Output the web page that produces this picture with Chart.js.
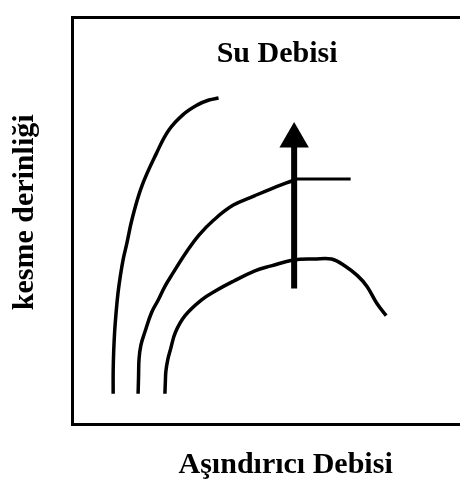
<!DOCTYPE html>
<html lang="tr">
<head>
<meta charset="utf-8">
<title>Su Debisi</title>
<script src="https://cdn.jsdelivr.net/npm/chart.js@4.4.1/dist/chart.umd.min.js"></script>
<style>
  html, body { margin: 0; padding: 0; background: #FFFFFF; overflow: hidden; }
  #grafik { display: block; }
</style>
</head>
<body>
<canvas id="grafik" width="476" height="484"></canvas>
<script>
// Yazilar
const baslik = "Su Debisi";
const eksen_x = "Aşındırıcı Debisi";
const eksen_y = "kesme derinliği";

// Egri 1 (en sol)
const egri1_x = [10.64, 10.64, 10.77, 11.01, 11.39, 11.88, 12.50, 13.24, 14.11, 15.59, 18.07, 21.78, 24.99, 28.71, 32.42, 35.39, 37.87];
const egri1_y = [7.43, 12.95, 17.75, 22.54, 27.34, 32.13, 36.45, 40.53, 44.12, 50.60, 58.51, 66.43, 72.18, 76.02, 78.41, 79.61, 80.09];

// Egri 2 (orta)
const egri2_x = [17.08, 17.20, 17.33, 17.82, 18.81, 20.54, 22.28, 24.01, 25.99, 29.70, 32.92, 36.63, 41.58, 47.27, 51.48, 57.42];
const egri2_y = [7.43, 11.75, 16.07, 19.42, 22.54, 27.34, 30.45, 33.81, 36.93, 42.44, 46.52, 50.12, 53.72, 56.11, 57.79, 59.95];

// Egri 2 sonundaki yatay cizgi
const duz_x = [57.4, 72.0];
const duz_y = [60.2, 60.2];

// Egri 3 (alt)
const egri3_x = [24.01, 24.13, 24.26, 24.75, 25.49, 26.73, 29.21, 33.41, 37.37, 41.58, 47.27, 51.48, 57.17, 62.62, 67.07, 70.54, 73.76, 76.23, 78.71, 81.19];
const egri3_y = [7.43, 10.55, 12.95, 15.83, 18.46, 22.54, 26.62, 30.45, 32.85, 35.01, 37.65, 38.84, 40.28, 40.53, 40.53, 38.84, 36.45, 33.81, 29.74, 26.62];

// Ok (yukari)
const ok_x = [57.4, 57.4];
const ok_y = [33.3, 70.0];

// Yazilarin yerleri (veri birimi)
const baslik_konum = { x: 53.0, y: 89.0 };
const eksen_x_konum = { x: 55.2 };
const eksen_y_konum = { y: 52.0 };

function noktalar(xs, ys) {
  return xs.map((x, i) => ({ x: x, y: ys[i] }));
}

const yazi_font = 'bold 30px "Liberation Serif", "Times New Roman", serif';

const yazilar = {
  id: "yazilar",
  afterDraw(chart) {
    const ctx = chart.ctx;
    const area = chart.chartArea;
    const sx = chart.scales.x;
    const sy = chart.scales.y;
    ctx.save();
    ctx.fillStyle = "#000000";
    ctx.font = yazi_font;
    ctx.textAlign = "center";
    ctx.textBaseline = "alphabetic";

    // baslik, kutunun icinde
    ctx.fillText(baslik, sx.getPixelForValue(baslik_konum.x), sy.getPixelForValue(baslik_konum.y));

    // x ekseni
    ctx.fillText(eksen_x, sx.getPixelForValue(eksen_x_konum.x), area.bottom + 49);

    // y ekseni
    ctx.translate(area.left - 39, sy.getPixelForValue(eksen_y_konum.y));
    ctx.rotate(-Math.PI / 2);
    ctx.fillText(eksen_y, 0, 0);
    ctx.restore();
  },
};

const egri_stili = {
  borderColor: "#000000",
  backgroundColor: "#000000",
  borderWidth: 3.5,
  pointRadius: 0,
  tension: 0.4,
  fill: false,
};

new Chart(document.getElementById("grafik"), {
  type: "scatter",
  data: {
    datasets: [
      Object.assign({ label: "egri1", data: noktalar(egri1_x, egri1_y) }, egri_stili),
      Object.assign({ label: "egri2", data: noktalar(egri2_x, egri2_y) }, egri_stili),
      Object.assign({ label: "egri3", data: noktalar(egri3_x, egri3_y) }, egri_stili),
      {
        label: "duz",
        data: noktalar(duz_x, duz_y),
        borderColor: "#000000",
        borderWidth: 3,
        pointRadius: 0,
        tension: 0,
      },
      {
        label: "ok",
        data: noktalar(ok_x, ok_y),
        borderColor: "#000000",
        backgroundColor: "#000000",
        borderWidth: 6,
        pointStyle: "triangle",
        pointRadius: [0, 17],
        pointBorderWidth: 0,
        pointBackgroundColor: "#000000",
        tension: 0,
      },
    ],
  },
  options: {
    responsive: false,
    animation: false,
    showLine: true,
    layout: {
      padding: { left: 72, top: 7, right: 0, bottom: 60 },
    },
    scales: {
      x: {
        type: "linear",
        position: "bottom",
        min: 0,
        max: 100,
        grid: { display: false, drawTicks: false },
        ticks: { display: false },
        border: { display: true, color: "#000000", width: 3 },
      },
      x2: {
        type: "linear",
        position: "top",
        min: 0,
        max: 100,
        grid: { display: false, drawTicks: false },
        ticks: { display: false },
        border: { display: true, color: "#000000", width: 3 },
      },
      y: {
        type: "linear",
        position: "left",
        min: 0,
        max: 100,
        grid: { display: false, drawTicks: false },
        ticks: { display: false },
        border: { display: true, color: "#000000", width: 3 },
      },
    },
    plugins: {
      legend: { display: false },
      tooltip: { enabled: false },
      title: { display: false },
    },
  },
  plugins: [yazilar],
});
</script>
</body>
</html>
